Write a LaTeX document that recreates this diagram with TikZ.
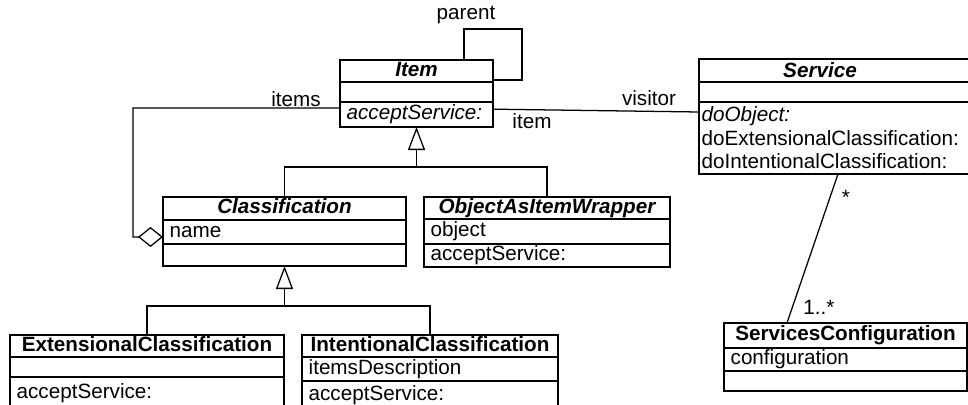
\documentclass[tikz,border=0pt]{standalone}
\usepackage{fontspec}
\setmainfont{Liberation Sans}
\usetikzlibrary{arrows.meta}
\newcommand\umlfont{\fontsize{15.5}{17.7}\selectfont}
\begin{document}
\begin{tikzpicture}[x=0.75pt,y=-0.75pt,line width=0.95pt,
  comp/.style={draw, anchor=north west, inner xsep=5pt, inner ysep=0pt, outer sep=0pt,
    font=\umlfont, text height=11pt, text depth=3.5pt},
  hdr/.style={comp, align=center},
  row/.style={comp, align=left},
  size/.code 2 args={\pgfmathsetmacro\cw{#1*0.75-10}\pgfmathsetmacro\ch{#2*0.75}%
    \pgfkeysalso{text width/.expanded=\cw pt, minimum height/.expanded=\ch pt}},
  lbl/.style={font=\umlfont, inner sep=0pt},
  gen/.style={-{Triangle[open,length=17.25pt,width=12.75pt]}},
  agg/.style={-{Diamond[open,length=18.75pt,width=15pt]}}]
\clip (0,0) rectangle (968,404);

% Item
\node[hdr, size={153}{22}] (itemH) at (340,60) {\bfseries\itshape Item};
\node[row, size={153}{20}] (itemA) at (itemH.south west) {};
\node[row, size={153}{25}] (itemO) at (itemA.south west) {\itshape acceptService:};

% Classification
\node[hdr, size={243}{23}] (clsH) at (163,197) {\bfseries\itshape Classification};
\node[row, size={243}{24}] (clsA) at (clsH.south west) {name};
\node[row, size={243}{22}] (clsO) at (clsA.south west) {};

% ObjectAsItemWrapper
\node[hdr, size={246}{22}] (objH) at (424,197) {\bfseries\itshape ObjectAsItemWrapper};
\node[row, size={246}{25}] (objA) at (objH.south west) {object};
\node[row, size={246}{23}] (objO) at (objA.south west) {acceptService:};

% ExtensionalClassification
\node[hdr, size={274}{22}] (extH) at (10,335) {\bfseries ExtensionalClassification};
\node[row, size={274}{20}] (extA) at (extH.south west) {};
\node[row, size={274}{33}] (extO) at (extA.south west) {acceptService:};

% IntentionalClassification
\node[hdr, size={256}{22}] (intH) at (302,335) {\bfseries IntentionalClassification};
\node[row, size={256}{24}] (intA) at (intH.south west) {itemsDescription};
\node[row, size={256}{28}] (intO) at (intA.south west) {acceptService:};

% Service
\node[hdr, size={290}{23}] (svcH) at (699,59) {};
\node[lbl] (svcT) at ([xshift=-18pt]svcH.center) {\bfseries\itshape Service};
\node[row, size={290}{20}] (svcA) at (svcH.south west) {};
\node[draw, anchor=north west, inner xsep=2pt, inner ysep=0pt, outer sep=0pt, font=\umlfont,
  align=left, text width=213.5pt, minimum height=54pt] (svcO) at (svcA.south west)
  {{\itshape doObject:}\\doExtensionalClassification:\\doIntentionalClassification:};

% ServicesConfiguration
\node[hdr, size={243}{25}] (cfgH) at (724,323) {\bfseries ServicesConfiguration};
\node[row, size={243}{23}] (cfgA) at (cfgH.south west) {configuration};
\node[row, size={243}{20}] (cfgO) at (cfgA.south west) {};

% generalisations
\coordinate (j1) at (416.5,167);
\draw[gen] (j1) -- (itemO.south);
\draw (clsH.north) |- (j1) -| (objH.north);
\coordinate (j2) at (284.5,306);
\draw[gen] (j2) -- (clsO.south);
\draw (extH.north) |- (j2) -| (intH.north);

% aggregation: items
\draw[agg] ([yshift=4.9pt]itemO.west) -| ++(-207,129) -- ([yshift=-3.75pt]clsA.west);

% self association: parent
\draw ([xshift=35.6pt]itemH.north) -- ++(0,-31) -- ++(58,0) |- ([yshift=1.5pt]itemH.south east);

% association item / visitor
\draw ([yshift=4pt]itemO.east) -- ([yshift=19.5pt]svcO.west);

% association Service / ServicesConfiguration
\draw ([xshift=-4.5pt]svcO.south) -- ([xshift=-43.9pt]cfgH.north);

% role names and multiplicities
\node[lbl] (lParent) at (466,15) {parent};
\node[lbl] (lItems) at (296,99) {items};
\node[lbl] (lVisitor) at (649,98) {visitor};
\node[lbl] (lItem) at (532,121) {item};
\node[lbl] (lMany) at (846,197) {*};
\node[lbl] (lOneMany) at (819,307) {1..*};
\end{tikzpicture}
\end{document}
